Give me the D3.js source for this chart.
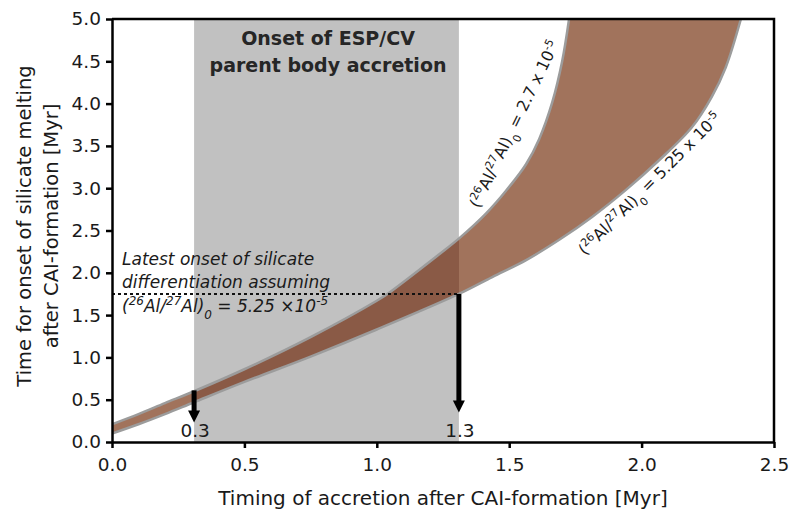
<!DOCTYPE html>
<html>
<head>
<meta charset="utf-8">
<script src="https://cdn.jsdelivr.net/npm/d3@7"></script>
<style>
  body { margin: 0; background: #fff; }
  svg text { font-family: "DejaVu Sans", sans-serif; fill: #1a1a1a; }
</style>
</head>
<body>
<svg id="chart" width="800" height="511"></svg>
<script>
// curve for (26Al/27Al)0 = 2.7e-5 (upper / left edge of the band)
const lowAlX = [0, 0.1, 0.2, 0.31, 0.5, 0.75, 1.0, 1.04, 1.236, 1.312, 1.412, 1.488, 1.563, 1.613, 1.663, 1.70, 1.726];
const lowAlY = [0.21, 0.33, 0.46, 0.60, 0.86, 1.24, 1.67, 1.75, 2.22, 2.41, 2.70, 2.97, 3.28, 3.58, 4.02, 4.50, 5.0];
// curve for (26Al/27Al)0 = 5.25e-5 (lower / right edge of the band)
const highAlX = [0, 0.1, 0.2, 0.31, 0.5, 0.75, 1.0, 1.31, 1.436, 1.564, 1.689, 1.813, 1.941, 2.066, 2.19, 2.265, 2.318, 2.375];
const highAlY = [0.10, 0.21, 0.33, 0.47, 0.71, 1.01, 1.33, 1.75, 1.95, 2.15, 2.39, 2.66, 2.98, 3.33, 3.72, 4.08, 4.43, 5.0];

const accretionWindow = [0.31, 1.31];
const latestOnset = 1.75;
const arrowX = [0.31, 1.31];
const arrowFrom = [0.61, 1.75];
const arrowTo = [0.23, 0.35];
const arrowLabels = ["0.3", "1.3"];

const xTicks = [0, 0.5, 1.0, 1.5, 2.0, 2.5];
const yTicks = [0, 0.5, 1.0, 1.5, 2.0, 2.5, 3.0, 3.5, 4.0, 4.5, 5.0];

const svg = d3.select("#chart");
const mLeft = 112, mRight = 774, mTop = 19, mBottom = 442;

const x = d3.scaleLinear().domain([0, 2.5]).range([mLeft, mRight]);
const y = d3.scaleLinear().domain([0, 5]).range([mBottom, mTop]);

const lowAl = lowAlX.map((v, i) => [v, lowAlY[i]]);
const highAl = highAlX.map((v, i) => [v, highAlY[i]]);

const defs = svg.append("defs");
defs.append("clipPath").attr("id", "plot")
    .append("rect").attr("x", mLeft).attr("y", mTop).attr("width", mRight - mLeft).attr("height", mBottom - mTop);
defs.append("clipPath").attr("id", "window")
    .append("rect")
    .attr("x", x(accretionWindow[0])).attr("y", mTop)
    .attr("width", x(accretionWindow[1]) - x(accretionWindow[0])).attr("height", mBottom - mTop);

const line = d3.line().x(d => x(d[0])).y(d => y(d[1])).curve(d3.curveCatmullRom);

const plot = svg.append("g").attr("clip-path", "url(#plot)");

// grey accretion window
plot.append("rect")
    .attr("x", x(accretionWindow[0])).attr("y", mTop)
    .attr("width", x(accretionWindow[1]) - x(accretionWindow[0]))
    .attr("height", mBottom - mTop)
    .style("fill", "#c1c1c1");

// band between the two curves
let bandPath = line(lowAl) + "L" + line(highAl.slice().reverse()).slice(1) + "Z";
plot.append("path").attr("d", bandPath).style("fill", "#a1735c");
plot.append("path").attr("d", bandPath).attr("clip-path", "url(#window)").style("fill", "#8a5a46");

[lowAl, highAl].forEach(c => {
    plot.append("path").attr("d", line(c))
        .style("fill", "none").style("stroke", "#9c9c9c").style("stroke-width", 2.5);
});

// dotted line for latest onset
plot.append("line")
    .attr("x1", x(0)).attr("x2", x(accretionWindow[1]))
    .attr("y1", y(latestOnset)).attr("y2", y(latestOnset))
    .style("stroke", "#111").style("stroke-width", 2).style("stroke-dasharray", "3,3");

// arrows
arrowX.forEach((ax, i) => {
    let px = x(ax), tip = y(arrowTo[i]);
    svg.append("line")
        .attr("x1", px).attr("x2", px)
        .attr("y1", y(arrowFrom[i])).attr("y2", tip - 10)
        .style("stroke", "#000").style("stroke-width", 5);
    svg.append("path")
        .attr("d", `M${px - 6},${tip - 12}L${px + 6},${tip - 12}L${px},${tip}Z`)
        .style("fill", "#000");
    svg.append("text")
        .attr("x", px + 1).attr("y", 437)
        .attr("text-anchor", "middle")
        .style("font-size", "18.5px")
        .text(arrowLabels[i]);
});

// isotope ratio text helper
function ratioText(sel, value, size) {
    let s = Math.round(size * 0.68);
    sel.append("tspan").text("(");
    sel.append("tspan").style("font-size", s + "px").attr("baseline-shift", "super").text("26");
    sel.append("tspan").text("Al/");
    sel.append("tspan").style("font-size", s + "px").attr("baseline-shift", "super").text("27");
    sel.append("tspan").text("Al)");
    sel.append("tspan").style("font-size", s + "px").attr("baseline-shift", "sub").text("0");
    sel.append("tspan").text(" = " + value);
    sel.append("tspan").style("font-size", s + "px").attr("baseline-shift", "super").text("-5");
}

// window title
svg.append("text").attr("x", 328).attr("y", 45).attr("text-anchor", "middle")
    .style("font-size", "19px").style("font-weight", "bold").style("fill", "#262626")
    .text("Onset of ESP/CV");
svg.append("text").attr("x", 328).attr("y", 72).attr("text-anchor", "middle")
    .style("font-size", "19px").style("font-weight", "bold").style("fill", "#262626")
    .text("parent body accretion");

// italic annotation
const note = svg.append("g").style("font-style", "italic").style("font-size", "17px");
note.append("text").attr("x", 122).attr("y", 265).text("Latest onset of silicate");
note.append("text").attr("x", 122).attr("y", 288).text("differentiation assuming");
ratioText(note.append("text").attr("x", 122).attr("y", 312), "5.25 \u00d710", 17);

// curve labels
ratioText(svg.append("text").attr("transform", "translate(479,209) rotate(-64)").style("font-size", "16px"),
    "2.7 x 10", 16);
ratioText(svg.append("text").attr("transform", "translate(585,256) rotate(-45)").style("font-size", "16px"),
    "5.25 x 10", 16);

// axes
const xAxis = svg.append("g").attr("transform", `translate(0,${mBottom})`)
    .call(d3.axisBottom(x).tickValues(xTicks).tickFormat(d3.format(".1f")).tickSize(6).tickSizeOuter(0));
const yAxis = svg.append("g").attr("transform", `translate(${mLeft},0)`)
    .call(d3.axisLeft(y).tickValues(yTicks).tickFormat(d3.format(".1f")).tickSize(6).tickSizeOuter(0));
[xAxis, yAxis].forEach(a => {
    a.selectAll("path, line").style("stroke", "#000").style("stroke-width", 2.5);
    a.selectAll("text").style("font-size", "18.5px").style("fill", "#1a1a1a")
        .style("font-family", "'DejaVu Sans', sans-serif");
});
xAxis.selectAll("text").attr("dy", "1.1em");
yAxis.selectAll("text").attr("x", -11);

// top and right frame
svg.append("path").attr("d", `M${mLeft},${mTop}H${mRight}V${mBottom}`)
    .style("fill", "none").style("stroke", "#000").style("stroke-width", 2.5);

// axis titles
svg.append("text").attr("x", (mLeft + mRight) / 2).attr("y", 505).attr("text-anchor", "middle")
    .style("font-size", "20px").text("Timing of accretion after CAI-formation [Myr]");
svg.append("text").attr("transform", "translate(31,226) rotate(-90)").attr("text-anchor", "middle")
    .style("font-size", "19.5px").text("Time for onset of silicate melting");
svg.append("text").attr("transform", "translate(58,226) rotate(-90)").attr("text-anchor", "middle")
    .style("font-size", "19.5px").text("after CAI-formation [Myr]");
</script>
</body>
</html>
